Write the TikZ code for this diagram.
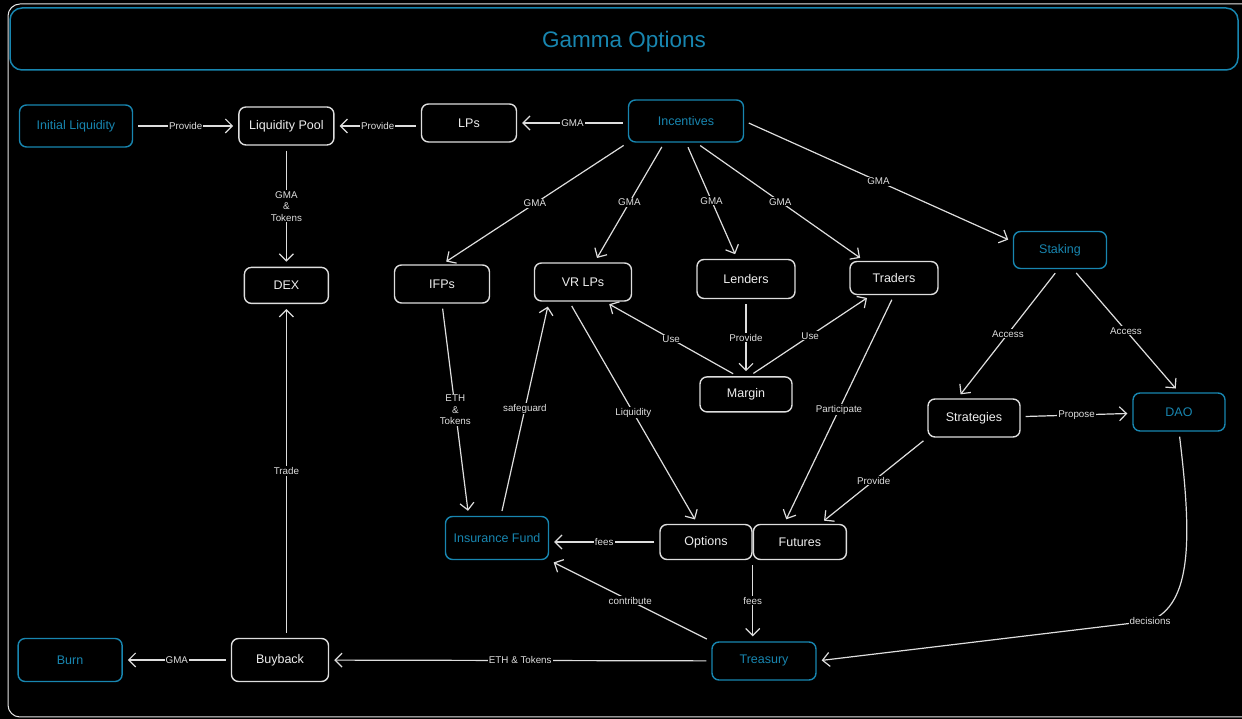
\documentclass[tikz,border=0pt]{standalone}
\usepackage{fontspec}
\setmainfont{Liberation Sans}
\usepackage{xcolor}
\usetikzlibrary{positioning, arrows.meta}
\definecolor{gblue}{RGB}{24,134,176}
\definecolor{gline}{RGB}{222,222,222}
\definecolor{gtext}{RGB}{238,238,238}

\begin{document}
\begin{tikzpicture}[x=1pt, y=1pt,
		>={Straight Barb[length=7pt,width=14pt]},
		link/.style={->, draw=gline, line width=1.2pt, shorten >=5pt, shorten <=5pt},
		box/.style={rectangle, rounded corners=7pt, draw=gline, line width=1.4pt, text=gtext, minimum width=95pt, minimum height=38pt, font=\fontsize{12.5}{15}\selectfont},
		keybox/.style={box, draw=gblue, text=gblue},
		lbl/.style={fill=black, text=gline, inner sep=1pt, align=center, font=\fontsize{9.8}{11.5}\selectfont}]
		\fill[black] (0,0) rectangle (1242,719);
		\useasboundingbox (0,0) rectangle (1242,719);
		\draw[gline!75, line width=1pt, rounded corners=12pt] (8,2) rectangle (1262,715);
		
		\node[rectangle, rounded corners=12pt, draw=gblue, line width=1.5pt, minimum width=1228pt, minimum height=62pt, text depth=0pt, text=gblue, font=\fontsize{22.5}{26}\selectfont] (title) at (624,680) {Gamma Options};
		
		\node[keybox, minimum width=113pt, minimum height=42pt] (init-liq) at (76,593) {Initial Liquidity};
		\node[box, right=105pt of init-liq] (liq-pool) {Liquidity Pool};
		\node[box] (lps) at (469,596) {LPs};
		\node[keybox, minimum width=115pt, minimum height=42pt] (incentives) at (686,598) {Incentives};
		
		\node[box, minimum width=84pt, minimum height=36pt, below=121pt of liq-pool] (dex) {DEX};
		\node[box] (ifps) at (442,435) {IFPs};
		\node[box, minimum width=97pt] (vr-lps) at (583,437) {VR LPs};
		\node[box, minimum width=98pt, minimum height=39pt] (lenders) at (746,440) {Lenders};
		\node[box, minimum width=88pt, minimum height=33pt] (traders) at (894,441) {Traders};
		\node[keybox, minimum width=93pt, minimum height=37pt] (staking) at (1060,469) {Staking};
		
		\node[box, minimum width=92pt, minimum height=35pt, below=77pt of lenders] (margin) {Margin};
		\node[box, minimum width=92pt] (strategies) at (974,301) {Strategies};
		\node[keybox, minimum width=92pt] (dao) at (1179,307) {DAO};
		
		\node[keybox, minimum width=103pt, minimum height=43pt] (ins-fund) at (497,181) {Insurance Fund};
		\node[box, minimum width=92pt, minimum height=35pt] (options) at (706,177) {Options};
		\node[box, minimum width=93pt, minimum height=35pt, right=0pt of options] (futures) {Futures};
		
		\node[keybox, minimum width=104pt] (treasury) at (764,58) {Treasury};
		\node[box, minimum width=97pt, minimum height=43pt] (buyback) at (280,59) {Buyback};
		\node[keybox, minimum width=104pt, minimum height=43pt, left=108pt of buyback] (burn) {Burn};
		
		\draw (init-liq) edge[link] node[lbl]{Provide} (liq-pool);
		\draw (lps.west |- liq-pool) edge[link] node[lbl]{Provide} (liq-pool);
		\draw (incentives.west |- lps) edge[link] node[lbl]{GMA} (lps);
		\draw (liq-pool) edge[link] node[lbl]{GMA\\\&\\Tokens} (dex);
		
		\draw (incentives.south west) edge[link] node[lbl]{GMA} (ifps.north);
		\draw (incentives.225) edge[link] node[lbl]{GMA} (vr-lps);
		\draw (incentives.south) edge[link] node[lbl]{GMA} (lenders);
		\draw (incentives.295) edge[link] node[lbl]{GMA} (traders.150);
		\draw (incentives.east) edge[link] node[lbl]{GMA} (staking.170);
		
		\draw (ifps.south) edge[link] node[lbl]{ETH\\\&\\Tokens} (ins-fund.142);
		\draw (ins-fund.80) edge[link] node[lbl]{safeguard} (vr-lps.210);
		\draw (vr-lps.235) edge[link] node[lbl]{Liquidity} (options.115);
		\draw (margin.115) edge[link] node[lbl]{Use} (vr-lps.318);
		\draw (margin.80) edge[link] node[lbl]{Use} (traders.217);
		\draw (lenders) edge[link] node[lbl]{Provide} (margin);
		\draw (traders.south) edge[link] node[lbl]{Participate} (futures.131);
		
		\draw (staking.265) edge[link] node[lbl]{Access} (strategies.130);
		\draw (staking.304) edge[link] node[lbl]{Access} (dao.north);
		\draw (strategies) edge[link] node[lbl]{Propose} (dao);
		\draw (strategies.south west) edge[link] node[lbl]{Provide} (futures.42);
		
		\draw (options.west) edge[link] node[lbl]{fees} (options.west -| ins-fund.east);
		\draw (options.south east) edge[link] node[lbl]{fees} (options.south east |- treasury.north);
		\draw (treasury.north west) edge[link] node[lbl]{contribute} (ins-fund.south east);
		\draw (treasury) edge[link] node[lbl]{ETH \& Tokens} (buyback);
		\draw (buyback.north -| dex.south) edge[link] node[lbl]{Trade} (dex.south);
		\draw (buyback) edge[link] node[lbl]{GMA} (burn);
		\draw[link] (dao.south) .. controls (1192,180) and (1192,115) .. (1150,98) node[lbl]{decisions} -- (treasury.east);
		
	\end{tikzpicture}
\end{document}
